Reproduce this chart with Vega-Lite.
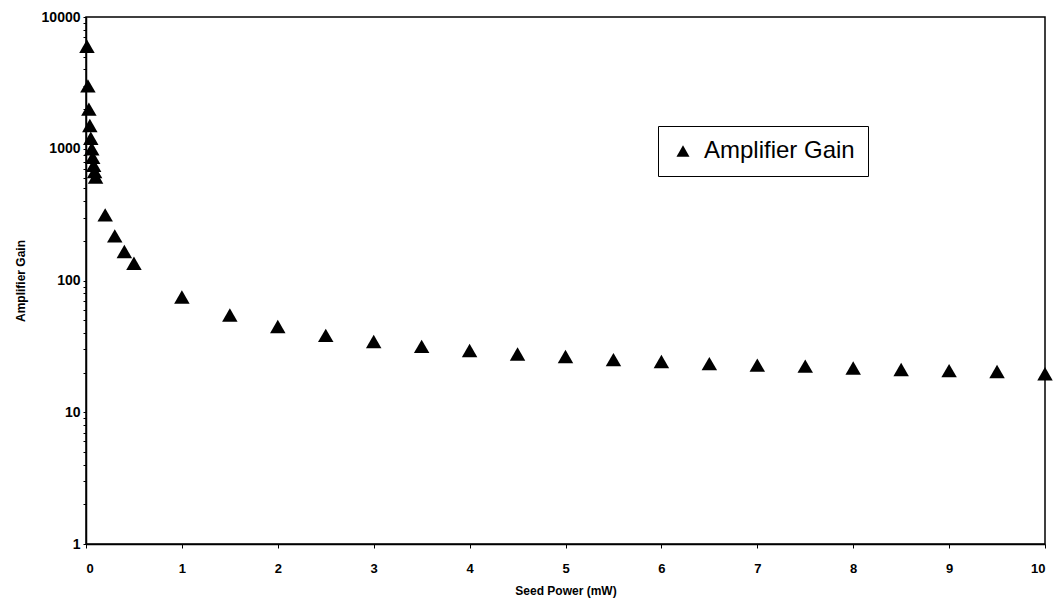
{
  "$schema": "https://vega.github.io/schema/vega-lite/v6.json",
  "width": 959,
  "height": 527,
  "autosize": {"type": "none"},
  "padding": {"left": 86, "top": 17, "right": 9, "bottom": 62},
  "background": "white",
  "config": {
    "font": "Liberation Sans",
    "view": {"stroke": "black", "strokeWidth": 1.5},
    "axis": {"grid": false, "domainColor": "black", "domainWidth": 1.5, "tickColor": "black", "labelColor": "black", "titleColor": "black", "labelFont": "Liberation Sans", "titleFont": "Liberation Sans", "labelFontWeight": "bold", "titleFontWeight": "bold"}
  },
  "data": {
    "values": [
      {"power": 0.01, "gain": 6000, "series": "Amplifier Gain"},
      {"power": 0.02, "gain": 3000, "series": "Amplifier Gain"},
      {"power": 0.03, "gain": 2000, "series": "Amplifier Gain"},
      {"power": 0.04, "gain": 1500, "series": "Amplifier Gain"},
      {"power": 0.05, "gain": 1200, "series": "Amplifier Gain"},
      {"power": 0.06, "gain": 1000, "series": "Amplifier Gain"},
      {"power": 0.07, "gain": 860, "series": "Amplifier Gain"},
      {"power": 0.08, "gain": 750, "series": "Amplifier Gain"},
      {"power": 0.09, "gain": 670, "series": "Amplifier Gain"},
      {"power": 0.1, "gain": 610, "series": "Amplifier Gain"},
      {"power": 0.2, "gain": 315, "series": "Amplifier Gain"},
      {"power": 0.3, "gain": 218, "series": "Amplifier Gain"},
      {"power": 0.4, "gain": 166, "series": "Amplifier Gain"},
      {"power": 0.5, "gain": 135, "series": "Amplifier Gain"},
      {"power": 1.0, "gain": 75, "series": "Amplifier Gain"},
      {"power": 1.5, "gain": 54.7, "series": "Amplifier Gain"},
      {"power": 2.0, "gain": 44.8, "series": "Amplifier Gain"},
      {"power": 2.5, "gain": 38.3, "series": "Amplifier Gain"},
      {"power": 3.0, "gain": 34.4, "series": "Amplifier Gain"},
      {"power": 3.5, "gain": 31.6, "series": "Amplifier Gain"},
      {"power": 4.0, "gain": 29.4, "series": "Amplifier Gain"},
      {"power": 4.5, "gain": 27.7, "series": "Amplifier Gain"},
      {"power": 5.0, "gain": 26.5, "series": "Amplifier Gain"},
      {"power": 5.5, "gain": 25.1, "series": "Amplifier Gain"},
      {"power": 6.0, "gain": 24.3, "series": "Amplifier Gain"},
      {"power": 6.5, "gain": 23.4, "series": "Amplifier Gain"},
      {"power": 7.0, "gain": 22.8, "series": "Amplifier Gain"},
      {"power": 7.5, "gain": 22.4, "series": "Amplifier Gain"},
      {"power": 8.0, "gain": 21.7, "series": "Amplifier Gain"},
      {"power": 8.5, "gain": 21.1, "series": "Amplifier Gain"},
      {"power": 9.0, "gain": 20.7, "series": "Amplifier Gain"},
      {"power": 9.5, "gain": 20.4, "series": "Amplifier Gain"},
      {"power": 10.0, "gain": 19.6, "series": "Amplifier Gain"}
    ]
  },
  "mark": {"type": "point", "filled": true, "color": "black", "opacity": 1, "size": 240},
  "encoding": {
    "x": {
      "field": "power", "type": "quantitative",
      "scale": {"domain": [0, 10], "nice": false},
      "axis": {"title": "Seed Power (mW)", "values": [0,1,2,3,4,5,6,7,8,9,10], "format": "d", "labelFontSize": 13, "titleFontSize": 12, "tickSize": 4, "labelPadding": 14, "titlePadding": 10}
    },
    "y": {
      "field": "gain", "type": "quantitative",
      "scale": {"type": "log", "domain": [1, 10000], "nice": false},
      "axis": {
        "title": "Amplifier Gain",
        "values": [1,2,3,4,5,6,7,8,9,10,20,30,40,50,60,70,80,90,100,200,300,400,500,600,700,800,900,1000,2000,3000,4000,5000,6000,7000,8000,9000,10000],
        "labelExpr": "abs(log(datum.value)/LN10 - round(log(datum.value)/LN10)) < 0.000001 ? format(datum.value, 'd') : ''",
        "labelFontSize": 14, "titleFontSize": 12, "tickSize": 3, "labelPadding": 3, "titlePadding": 14
      }
    },
    "shape": {
      "field": "series", "type": "nominal",
      "scale": {"range": ["triangle-up"]},
      "legend": {
        "title": null, "orient": "none", "legendX": 572, "legendY": 109,
        "strokeColor": "black", "fillColor": "white", "padding": 13,
        "labelFontSize": 24, "labelFont": "Liberation Sans", "labelColor": "black",
        "symbolSize": 170, "symbolFillColor": "black", "symbolStrokeColor": "black", "labelOffset": 9
      }
    }
  }
}
